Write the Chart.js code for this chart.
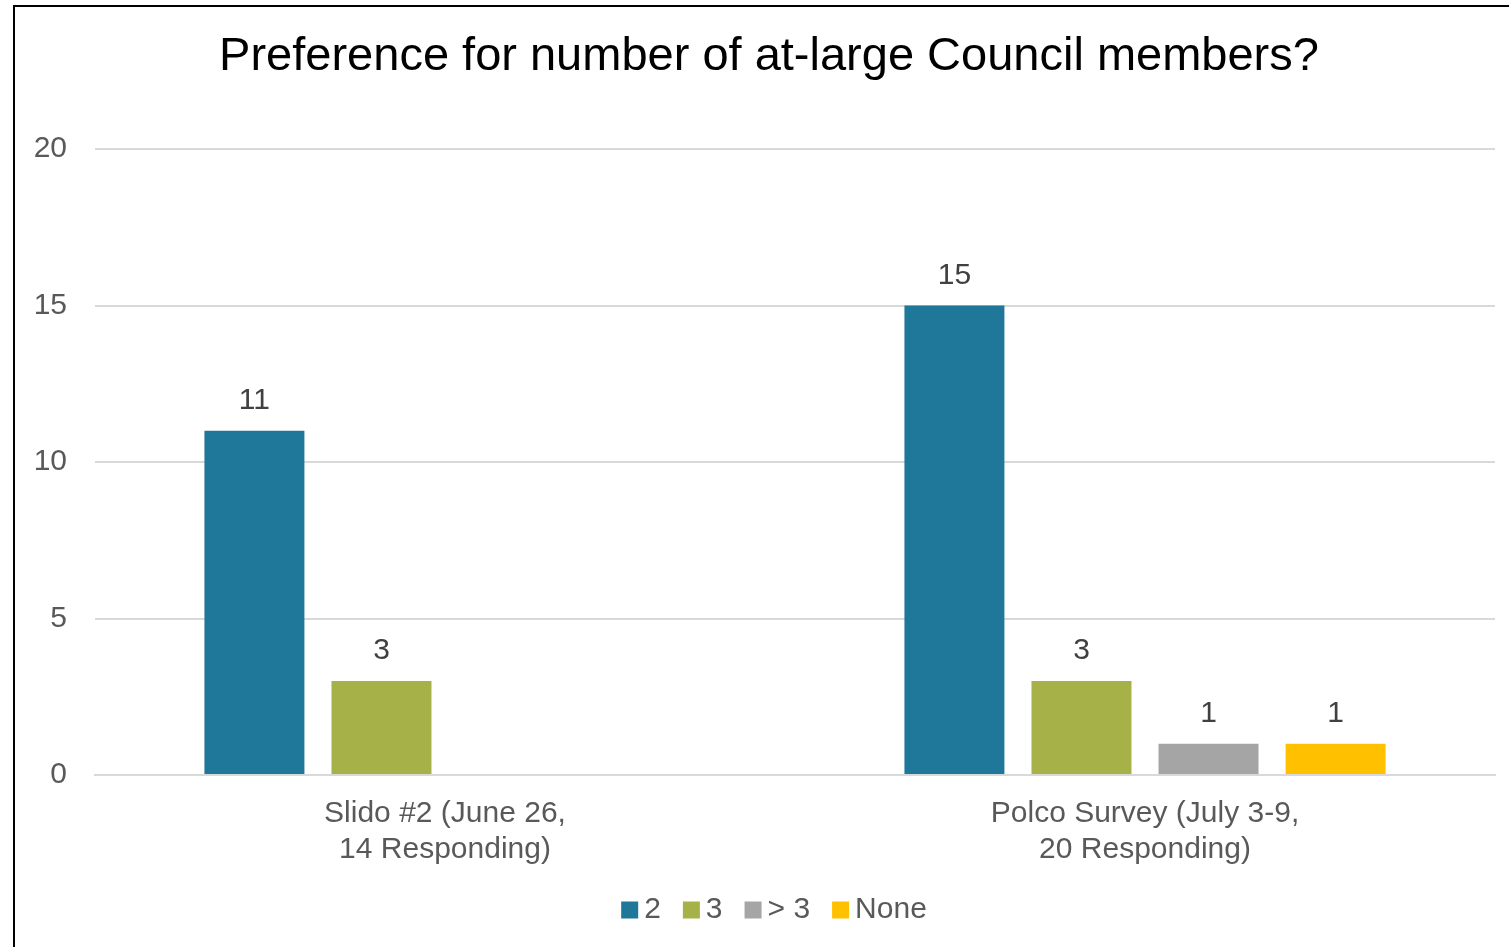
<!DOCTYPE html>
<html>
<head>
<meta charset="utf-8">
<script src="https://cdn.jsdelivr.net/npm/chart.js@4.4.1/dist/chart.umd.min.js"></script>
<style>
  html, body { margin: 0; padding: 0; background: #fff; }
  #wrap { width: 1509px; height: 947px; position: relative; }
</style>
</head>
<body>
<div id="wrap"><canvas id="c" width="1509" height="947"></canvas></div>
<script>
const titleText = 'Preference for number of at-large Council members?';
const categories = [["Slido #2 (June 26,", "14 Responding)"], ["Polco Survey (July 3-9,", "20 Responding)"]];
const seriesNames = ["2", "3", "> 3", "None"];
const values2 = [11, 15];
const values3 = [3, 3];
const valuesMore3 = [null, 1];
const valuesNone = [null, 1];
const yTicks = [0, 5, 10, 15, 20];
const colors = ["#1F7899", "#A6B247", "#A5A5A5", "#FFC000"];

const FONT = "'Liberation Sans', Arial, sans-serif";

const frame = {
  id: 'frame',
  beforeDraw(chart) {
    const ctx = chart.ctx;
    ctx.save();
    ctx.fillStyle = '#fff';
    ctx.fillRect(0, 0, chart.width, chart.height);
    ctx.strokeStyle = '#000';
    ctx.lineWidth = 2;
    ctx.strokeRect(14, 6, 1600, 1100);
    ctx.font = "47px " + FONT;
    ctx.fillStyle = '#000';
    ctx.textAlign = 'center';
    ctx.textBaseline = 'middle';
    ctx.fillText(titleText, 769, 57);
    ctx.restore();
  }
};

const labelsPlugin = {
  id: 'valueLabels',
  afterDatasetsDraw(chart) {
    const ctx = chart.ctx;
    ctx.save();
    ctx.font = "30px " + FONT;
    ctx.fillStyle = '#404040';
    ctx.textAlign = 'center';
    ctx.textBaseline = 'middle';
    chart.data.datasets.forEach((ds, i) => {
      const meta = chart.getDatasetMeta(i);
      meta.data.forEach((bar, j) => {
        const v = ds.data[j];
        if (v === null || v === undefined) return;
        ctx.fillText(String(v), bar.x, bar.y - 30);
      });
    });
    ctx.restore();
  }
};

const legendPlugin = {
  id: 'customLegend',
  afterDraw(chart) {
    const ctx = chart.ctx;
    ctx.save();
    ctx.font = "30px " + FONT;
    ctx.textBaseline = 'middle';
    ctx.textAlign = 'left';
    const box = 17, gap = 6, spacing = 22;
    const items = chart.data.datasets.map(ds => ({ text: ds.label, color: ds.backgroundColor, w: ctx.measureText(ds.label).width }));
    let total = 0;
    items.forEach((it, i) => { total += box + gap + it.w + (i < items.length - 1 ? spacing : 0); });
    let x = 774 - total / 2;
    const y = 910;
    items.forEach(it => {
      ctx.fillStyle = it.color;
      ctx.fillRect(x, y - box / 2, box, box);
      ctx.fillStyle = '#595959';
      ctx.fillText(it.text, x + box + gap, y);
      x += box + gap + it.w + spacing;
    });
    ctx.restore();
  }
};

const allSeries = [values2, values3, valuesMore3, valuesNone];

new Chart(document.getElementById('c'), {
  type: 'bar',
  data: {
    labels: categories,
    datasets: allSeries.map((d, i) => ({
      label: seriesNames[i],
      data: d,
      backgroundColor: colors[i],
      borderWidth: 0,
      categoryPercentage: 0.726,
      barPercentage: 0.787
    }))
  },
  options: {
    responsive: false,
    animation: false,
    layout: { padding: { top: 149, right: 14, left: 0, bottom: 79 } },
    plugins: {
      title: { display: false },
      legend: { display: false },
      tooltip: { enabled: false }
    },
    scales: {
      y: {
        min: 0,
        max: 20,
        afterBuildTicks(scale) { scale.ticks = yTicks.map(v => ({ value: v })); },
        afterFit(scale) { scale.width = 95; },
        ticks: {
          color: '#595959',
          font: { family: FONT, size: 30 },
          padding: 28
        },
        grid: { color: '#d9d9d9', lineWidth: 2, drawTicks: false },
        border: { display: false }
      },
      x: {
        afterFit(scale) { scale.height = 93; },
        ticks: {
          color: '#595959',
          font: { family: FONT, size: 30, lineHeight: 1.2 },
          padding: 21,
          maxRotation: 0
        },
        grid: { display: false, drawTicks: false },
        border: { color: '#d9d9d9', width: 2 }
      }
    }
  },
  plugins: [frame, labelsPlugin, legendPlugin]
});
</script>
</body>
</html>
